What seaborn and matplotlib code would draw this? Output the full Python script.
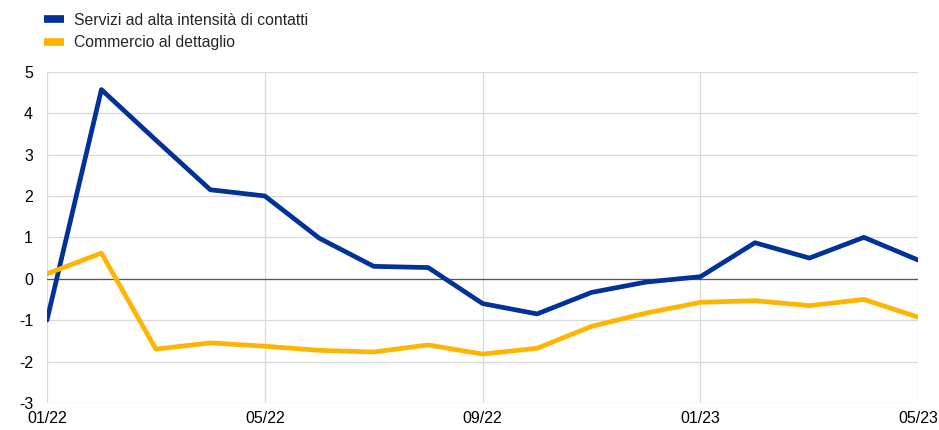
import matplotlib
matplotlib.use("Agg")
import matplotlib.pyplot as plt
import seaborn as sns
import pandas as pd

months = ["01/22", "02/22", "03/22", "04/22", "05/22", "06/22", "07/22", "08/22", "09/22",
          "10/22", "11/22", "12/22", "01/23", "02/23", "03/23", "04/23", "05/23"]
servizi = [-1.0, 4.57, 3.35, 2.15, 2.0, 0.98, 0.3, 0.27, -0.6,
           -0.85, -0.33, -0.08, 0.05, 0.87, 0.5, 1.0, 0.45]
commercio = [0.12, 0.62, -1.7, -1.55, -1.63, -1.73, -1.77, -1.6, -1.82,
             -1.68, -1.15, -0.83, -0.57, -0.53, -0.65, -0.5, -0.93]
series_names = ["Servizi ad alta intensità di contatti", "Commercio al dettaglio"]
tick_months = ["01/22", "05/22", "09/22", "01/23", "05/23"]

df = pd.DataFrame({
    "idx": list(range(len(months))) * 2,
    "value": servizi + commercio,
    "serie": [series_names[0]] * len(months) + [series_names[1]] * len(months),
})

sns.set_style("white")
plt.rcParams['font.family'] = ['Liberation Sans', 'DejaVu Sans']
plt.rcParams['axes.unicode_minus'] = False

fig = plt.figure(figsize=(9.39, 4.30), dpi=100)
ax = fig.add_axes([0.050, 0.063, 0.928, 0.770])

palette = {series_names[0]: "#003299", series_names[1]: "#FFB400"}
sns.lineplot(data=df, x="idx", y="value", hue="serie", palette=palette,
             linewidth=3.4, ax=ax, legend=False, zorder=3)

ax.axhline(0, color="#555555", linewidth=0.9, zorder=2)

ax.set_xlim(0, len(months) - 1)
ax.set_ylim(-3, 5)
ax.set_yticks(range(-3, 6))
ax.set_xticks([months.index(m) for m in tick_months])
ax.set_xticklabels(tick_months)
ax.grid(True, color="#d9d9d9", linewidth=0.9, zorder=0)
for s in ax.spines.values():
    s.set_visible(False)
ax.tick_params(axis="both", length=0, labelsize=11.5, colors="black")
ax.tick_params(axis="y", pad=10)
ax.tick_params(axis="x", pad=6)
ax.set_xlabel("")
ax.set_ylabel("")

handles = [plt.Line2D([], [], color=palette[n], linewidth=5.5, solid_capstyle="butt")
           for n in series_names]
fig.legend(handles, series_names, loc="upper left", bbox_to_anchor=(0.034, 1.0),
           frameon=False, fontsize=11.3, handlelength=1.25, handletextpad=0.65,
           labelspacing=0.5, borderaxespad=0.4)

fig.savefig("out.png", dpi=100)
